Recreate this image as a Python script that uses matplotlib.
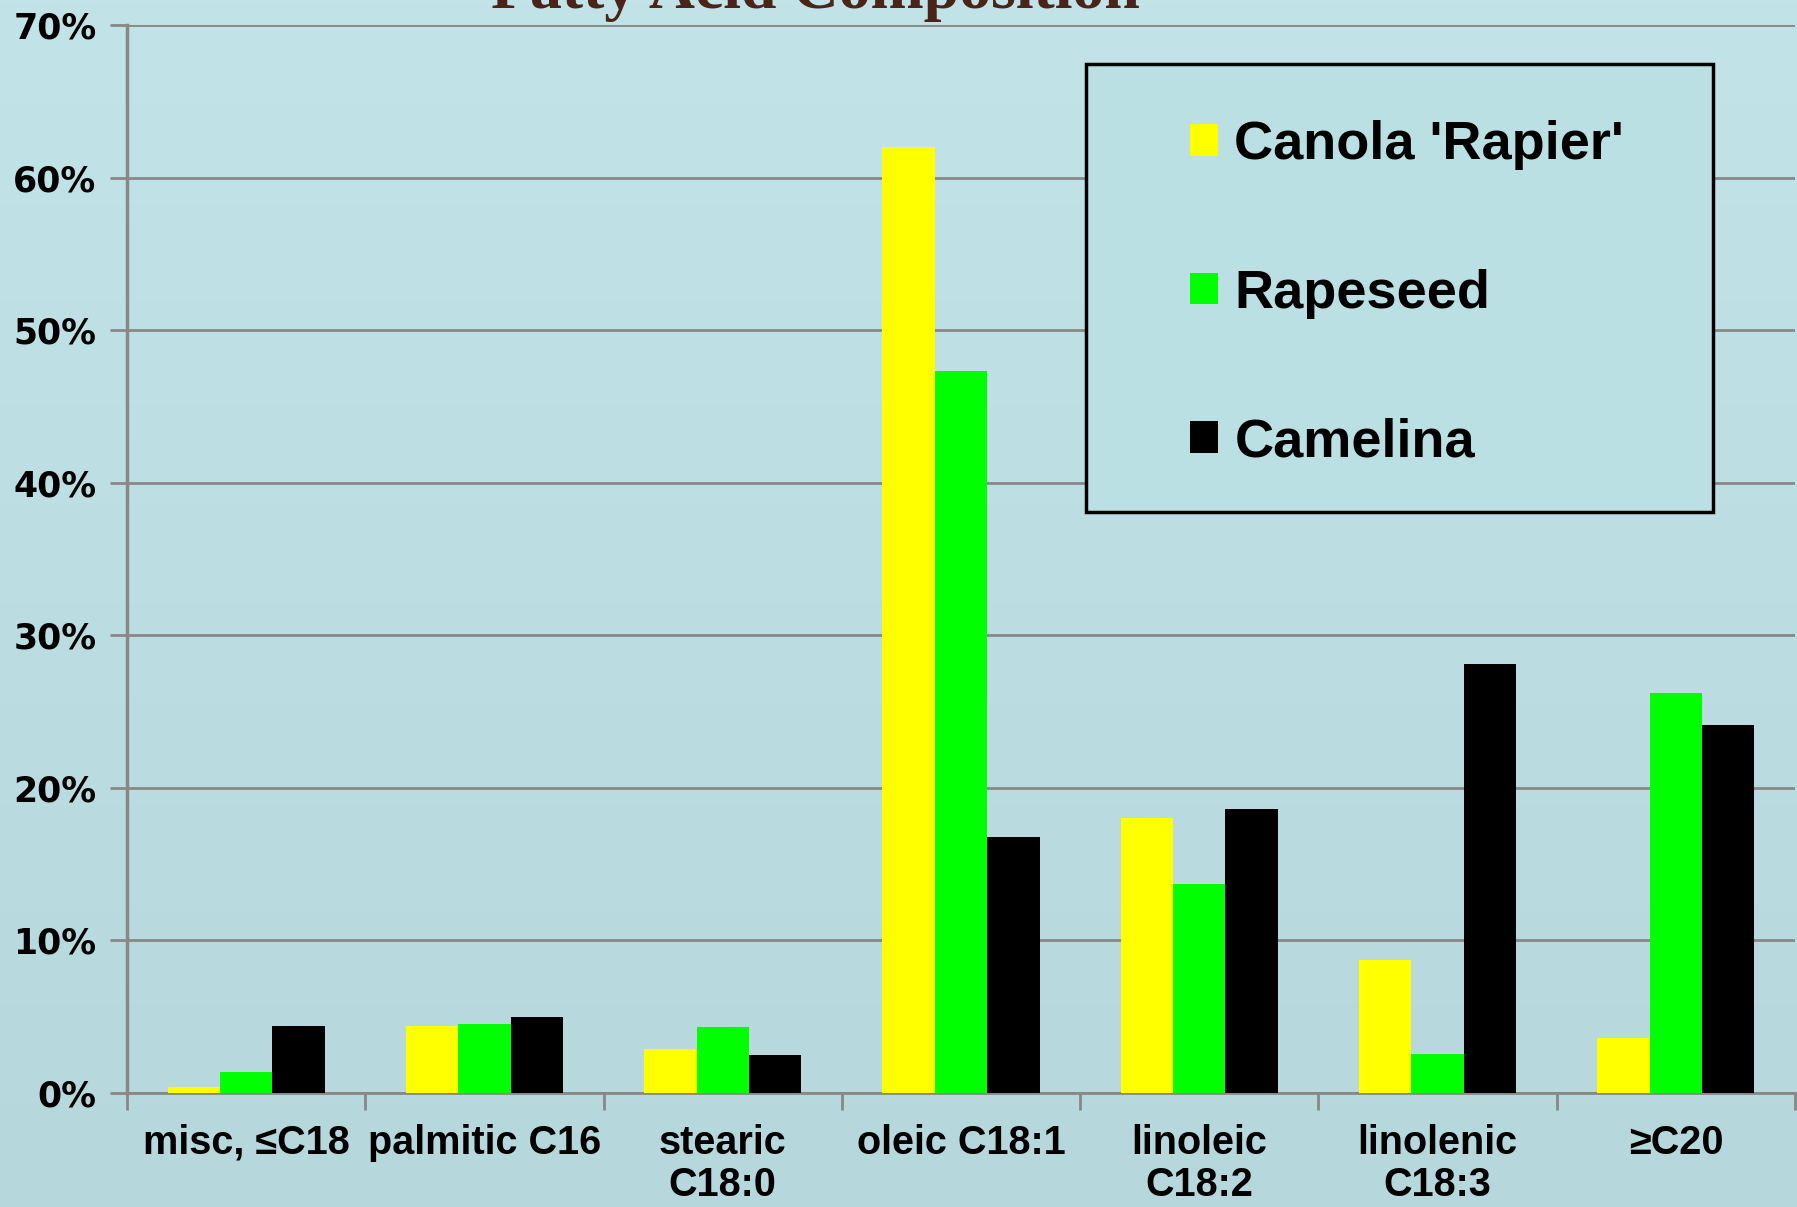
import numpy as np
import matplotlib
matplotlib.use("Agg")
import matplotlib.pyplot as plt
from matplotlib.patches import Patch, Rectangle

# data (percent)
categories = ["misc, \u2264C18", "palmitic C16", "stearic\nC18:0", "oleic C18:1",
              "linoleic\nC18:2", "linolenic\nC18:3", "\u2265C20"]
series_names = ["Canola 'Rapier'", "Rapeseed", "Camelina"]
canola = [0.4, 4.4, 2.9, 62.0, 18.0, 8.7, 3.6]
rapeseed = [1.35, 4.5, 4.3, 47.3, 13.7, 2.55, 26.2]
camelina = [4.4, 5.0, 2.5, 16.8, 18.6, 28.1, 24.1]
yticks = [0, 10, 20, 30, 40, 50, 60, 70]

colors = ["#ffff00", "#00ff00", "#000000"]
narrow = ["Liberation Sans Narrow", "Liberation Sans", "DejaVu Sans"]
W, H = 1797, 1207

fig = plt.figure(figsize=(W / 100, H / 100), dpi=100)

# background gradient
bg = fig.add_axes([0, 0, 1, 1], zorder=-10)
grad = np.linspace(0, 1, 256).reshape(-1, 1)
top = np.array([0xc2, 0xe3, 0xe8]) / 255.0
bot = np.array([0xb6, 0xd8, 0xdd]) / 255.0
img = top[None, None, :] * (1 - grad[:, :, None]) + bot[None, None, :] * grad[:, :, None]
bg.imshow(img, aspect="auto", extent=[0, 1, 0, 1])
bg.axis("off")

ax = fig.add_axes([127 / W, 1 - 1093 / H, 1668 / W, 1068 / H])
ax.set_facecolor("none")

x = np.arange(len(categories))
w = 0.22
for i, (vals, name) in enumerate(zip([canola, rapeseed, camelina], series_names)):
    ax.bar(x + (i - 1) * w, vals, width=w, color=colors[i], label=name, zorder=3)

ax.set_xlim(-0.5, len(categories) - 0.5)
ax.set_ylim(0, 70)
ax.set_yticks(yticks)
ax.set_yticklabels(["%d%%" % v for v in yticks], fontsize=25, fontweight="bold",
                   family="DejaVu Sans")
ax.tick_params(axis="y", length=12, width=2, color="#888888", pad=10)
ax.yaxis.grid(True, color="#888888", linewidth=2, zorder=0)

ax.set_xticks(x)
ax.set_xticklabels(categories, fontsize=28.5, fontweight="bold", family=narrow,
                   linespacing=1.15)
ax.tick_params(axis="x", length=0, pad=22)
ax.set_xticks(np.arange(-0.5, len(categories)), minor=True)
ax.tick_params(axis="x", which="minor", length=12, width=2, color="#888888")

for s in ["top", "right"]:
    ax.spines[s].set_visible(False)
ax.spines["left"].set_color("#888888")
ax.spines["left"].set_linewidth(2.5)
ax.spines["bottom"].set_color("#888888")
ax.spines["bottom"].set_linewidth(2)

# legend: frame drawn separately so the box matches the original slide
box = Rectangle((1086 / W, 1 - 512 / H), 627 / W, 448 / H, transform=fig.transFigure,
                facecolor="#bae0e4", edgecolor="black", linewidth=2.5, zorder=5)
fig.add_artist(box)
handles = [Patch(facecolor=c, edgecolor="none") for c in colors]
leg = fig.legend(handles, series_names, loc="upper left",
                 bbox_to_anchor=(1190 / W, 1 - 120 / H),
                 prop={"family": narrow, "weight": "bold", "size": 39},
                 handlelength=0.52, handleheight=0.52, handletextpad=0.3,
                 labelspacing=1.82, borderpad=0, borderaxespad=0, frameon=False)
leg.set_zorder(6)

fig.text(0.454, 1 - 8 / H, "Fatty Acid Composition", ha="center", va="baseline",
         fontsize=46, fontweight="bold", color="#4a2418",
         family=["Liberation Serif", "DejaVu Serif"])

fig.savefig("out.png", dpi=100)
